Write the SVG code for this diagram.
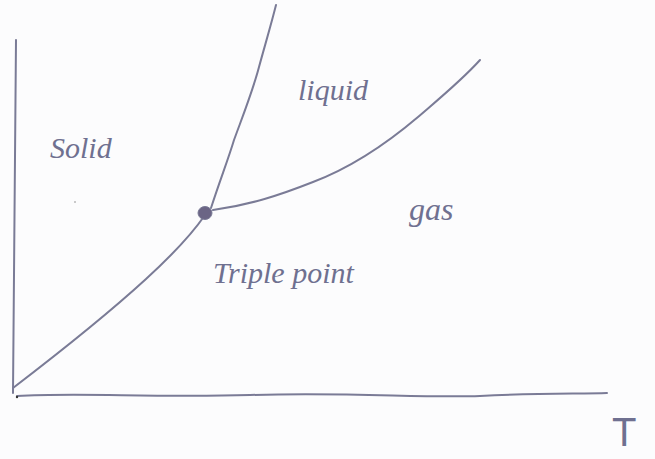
<svg xmlns="http://www.w3.org/2000/svg" width="655" height="459" viewBox="0 0 655 459">
<style>
.ln{fill:none;stroke:#7a7b96;stroke-width:2;stroke-linecap:round;stroke-linejoin:round}
.hw{font-family:"Liberation Serif","DejaVu Serif",serif;font-style:italic;fill:#6f7090}
.tl{font-family:"Liberation Sans",sans-serif;fill:#6f7090}
</style>
<rect width="655" height="459" fill="#fcfcfd"/>
<g id="axes">
<path class="ln" d="M16,40 C15,150 14,280 13,393"/>
<path class="ln" d="M17,396 C80,392 150,398 250,395 C350,392 420,398 480,396 C540,393 580,394 607,393"/>
<circle cx="17" cy="397" r="1.2" fill="#333"/>
</g>
<g id="connectors">
<path class="ln" d="M13,388 C60,352 110,312 146,279 C170,257 190,237 205,215"/>
<path class="ln" d="M211,208 C220,180 228,160 234,140 C245,110 253,90 259,67 C265,45 271,25 276,5"/>
<path class="ln" d="M213,210 C250,205 280,195 313,182 C350,168 385,145 418,117 C440,98 462,80 480,60"/>
</g>
<g id="triple-point">
<ellipse cx="205" cy="213" rx="7" ry="6.5" fill="#6b6585" stroke="#7a7b96" stroke-width="1"/>
<text class="hw" x="213" y="283" font-size="30">Triple point</text>
</g>
<g id="solid"><text class="hw" x="50" y="158" font-size="30">Solid</text></g>
<g id="liquid"><text class="hw" x="298" y="100" font-size="30">liquid</text></g>
<g id="gas"><text class="hw" x="409" y="220" font-size="32">gas</text></g>
<g id="t-label"><text class="tl" x="612" y="446" font-size="40">T</text></g>
<circle cx="75" cy="202" r="0.8" fill="#888"/>
</svg>
